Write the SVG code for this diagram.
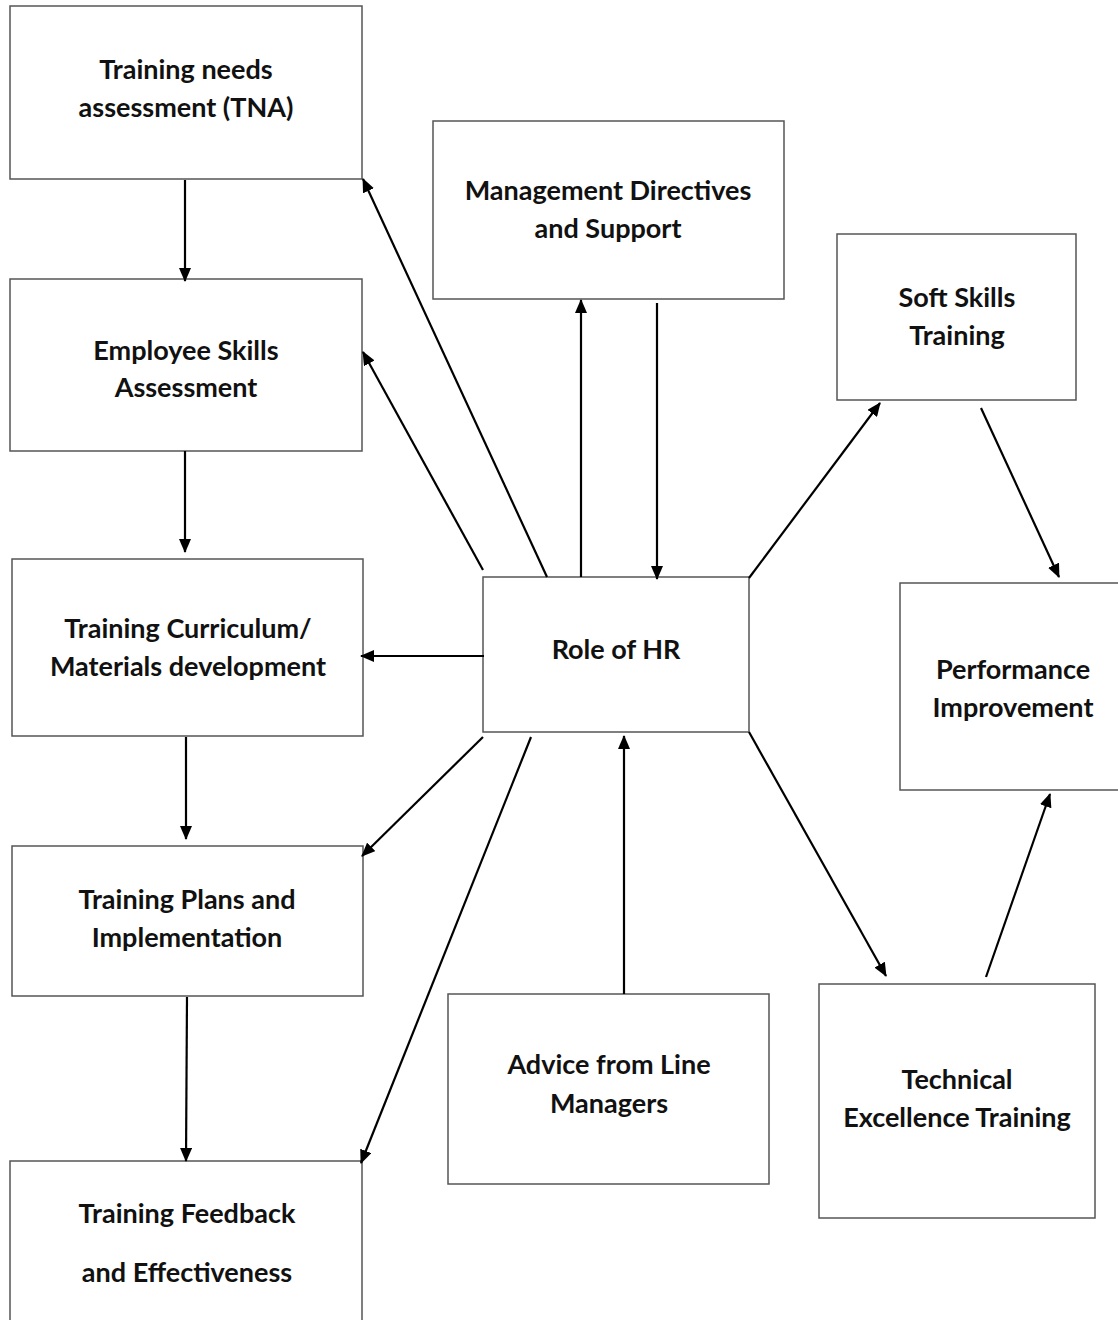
<svg xmlns="http://www.w3.org/2000/svg" width="1118" height="1320" viewBox="0 0 1118 1320">
<style>
.box{fill:#fff;stroke:#555;stroke-width:1.5}
.t{font-family:Lato,"Open Sans","Liberation Sans",sans-serif;font-weight:bold;font-size:27px;fill:#111;text-anchor:middle}
.c{stroke:#000;stroke-width:2.2;fill:none;marker-end:url(#ah)}
</style>
<defs>
<marker id="ah" viewBox="0 0 14 12" refX="13" refY="6" markerWidth="14" markerHeight="12" markerUnits="userSpaceOnUse" orient="auto">
<path d="M0,0 L14,6 L0,12 Z" fill="#000"/>
</marker>
</defs>
<rect width="1118" height="1320" fill="#fff"/>
<g id="n-tna"><rect class="box" x="10" y="6" width="352" height="173"/><text class="t" x="186" y="79">Training needs</text><text class="t" x="186" y="117">assessment (TNA)</text></g>
<g id="n-skills"><rect class="box" x="10" y="279" width="352" height="172"/><text class="t" x="186" y="360">Employee Skills</text><text class="t" x="186" y="397">Assessment</text></g>
<g id="n-curr"><rect class="box" x="12" y="559" width="351" height="177"/><text class="t" x="188" y="638">Training Curriculum/</text><text class="t" x="188" y="676">Materials development</text></g>
<g id="n-plans"><rect class="box" x="12" y="846" width="351" height="150"/><text class="t" x="187" y="909">Training Plans and</text><text class="t" x="187" y="947">Implementation</text></g>
<g id="n-feedback"><rect class="box" x="10" y="1161" width="352" height="170"/><text class="t" x="187" y="1223">Training Feedback</text><text class="t" x="187" y="1282">and Effectiveness</text></g>
<g id="n-mgmt"><rect class="box" x="433" y="121" width="351" height="178"/><text class="t" x="608" y="200">Management Directives</text><text class="t" x="608" y="238">and Support</text></g>
<g id="n-soft"><rect class="box" x="837" y="234" width="239" height="166"/><text class="t" x="957" y="307">Soft Skills</text><text class="t" x="957" y="345">Training</text></g>
<g id="n-perf"><rect class="box" x="900" y="583" width="222" height="207"/><text class="t" x="1013" y="679">Performance</text><text class="t" x="1013" y="717">Improvement</text></g>
<g id="n-hr"><rect class="box" x="483" y="577" width="266" height="155"/><text class="t" x="616" y="659">Role of HR</text></g>
<g id="n-advice"><rect class="box" x="448" y="994" width="321" height="190"/><text class="t" x="609" y="1074">Advice from Line</text><text class="t" x="609" y="1113">Managers</text></g>
<g id="n-tech"><rect class="box" x="819" y="984" width="276" height="234"/><text class="t" x="957" y="1089">Technical</text><text class="t" x="957" y="1127">Excellence Training</text></g>
<g id="connectors">
<line class="c" x1="185" y1="180" x2="185" y2="281"/>
<line class="c" x1="185" y1="451" x2="185" y2="552"/>
<line class="c" x1="186" y1="737" x2="186" y2="839"/>
<line class="c" x1="187" y1="997" x2="186" y2="1161"/>
<line class="c" x1="547" y1="577" x2="363" y2="179"/>
<line class="c" x1="483" y1="570" x2="363" y2="352"/>
<line class="c" x1="581" y1="577" x2="581" y2="300"/>
<line class="c" x1="657" y1="303" x2="657" y2="579"/>
<line class="c" x1="484" y1="656" x2="361" y2="656"/>
<line class="c" x1="483" y1="737" x2="362" y2="856"/>
<line class="c" x1="531" y1="737" x2="361" y2="1163"/>
<line class="c" x1="624" y1="994" x2="624" y2="736"/>
<line class="c" x1="749" y1="578" x2="880" y2="403"/>
<line class="c" x1="981" y1="408" x2="1059" y2="577"/>
<line class="c" x1="749" y1="732" x2="886" y2="976"/>
<line class="c" x1="986" y1="977" x2="1050" y2="794"/>
</g>
</svg>
